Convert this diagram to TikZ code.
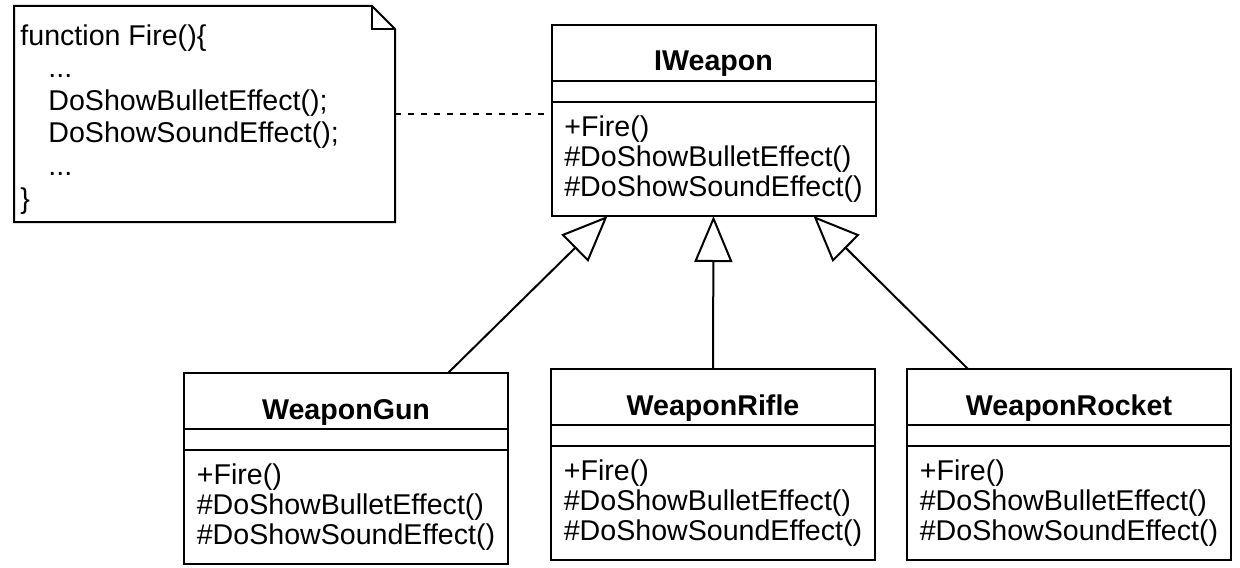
\documentclass[tikz,border=0pt]{standalone}
\usepackage{fontspec}
\setmainfont{Liberation Sans}
\usepackage{tikz}
\usetikzlibrary{positioning}
\usetikzlibrary{arrows.meta}

\begin{document}
\begin{tikzpicture}[x=0.5pt, y=-0.5pt,
	every node/.style={font=\fontsize{14.3}{15}\selectfont},
	classNameBox/.style={rectangle, draw, line width=1pt, minimum width=162pt, minimum height=28pt, outer sep=0pt, font=\fontsize{14.3}{15}\selectfont\bfseries, text height=18pt, text depth=0pt},
	classAttrBox/.style={rectangle, draw, line width=1pt, minimum width=162pt, minimum height=10.5pt, inner sep=0pt, outer sep=0pt},
	classOpsBox/.style={rectangle, draw, line width=1pt, minimum width=162pt, minimum height=57pt, outer sep=0pt, align=left},
	inheritArrow/.style={-{Triangle[open, length=23pt, width=19pt]}, line width=1pt}]
	\useasboundingbox (0,0) rectangle (1240,567);

	% note on the left
	\node[rectangle, minimum width=190.5pt, minimum height=108pt, outer sep=0pt](noteBox) at (204.5,114){};
	\draw[line width=1pt] (noteBox.north west) -- ([xshift=-11.5pt]noteBox.north east) -- ([yshift=-11.5pt]noteBox.north east) -- (noteBox.south east) -- (noteBox.south west) -- cycle;
	\draw[line width=1pt] ([xshift=-11.5pt]noteBox.north east) |- ([yshift=-11.5pt]noteBox.north east);
	\node[anchor=north west, inner sep=0pt, align=left, font=\fontsize{14.3}{16.3}\selectfont](noteText) at (20,24){function Fire()\{\\\hspace*{14pt}...\\\hspace*{14pt}DoShowBulletEffect();\\\hspace*{14pt}DoShowSoundEffect();\\\hspace*{14pt}...\\\}};

	% interface
	\node[classNameBox](iweaponName) at (713.5,53){IWeapon};
	\node[classAttrBox, below=0pt of iweaponName](iweaponAttr){};
	\node[classOpsBox, below=0pt of iweaponAttr](iweaponOps){+Fire()\\\#DoShowBulletEffect()\\\#DoShowSoundEffect()};

	% subclasses
	\node[classNameBox](gunName) at (346,401){WeaponGun};
	\node[classAttrBox, below=0pt of gunName](gunAttr){};
	\node[classOpsBox, below=0pt of gunAttr](gunOps){+Fire()\\\#DoShowBulletEffect()\\\#DoShowSoundEffect()};

	\node[classNameBox](rifleName) at (713,397){WeaponRifle};
	\node[classAttrBox, below=0pt of rifleName](rifleAttr){};
	\node[classOpsBox, below=0pt of rifleAttr](rifleOps){+Fire()\\\#DoShowBulletEffect()\\\#DoShowSoundEffect()};

	\node[classNameBox](rocketName) at (1069,397){WeaponRocket};
	\node[classAttrBox, below=0pt of rocketName](rocketAttr){};
	\node[classOpsBox, below=0pt of rocketAttr](rocketOps){+Fire()\\\#DoShowBulletEffect()\\\#DoShowSoundEffect()};

	\draw[line width=1pt, dash pattern=on 3pt off 3.5pt] (noteBox.east) -- (noteBox.east -| iweaponName.west);
	\draw[inheritArrow] ([xshift=51pt]gunName.north) -- ([xshift=-53pt]iweaponOps.south);
	\draw[inheritArrow] (rifleName.north) -- (iweaponOps.south);
	\draw[inheritArrow] ([xshift=-50.5pt]rocketName.north) -- ([xshift=50pt]iweaponOps.south);
\end{tikzpicture}
\end{document}
